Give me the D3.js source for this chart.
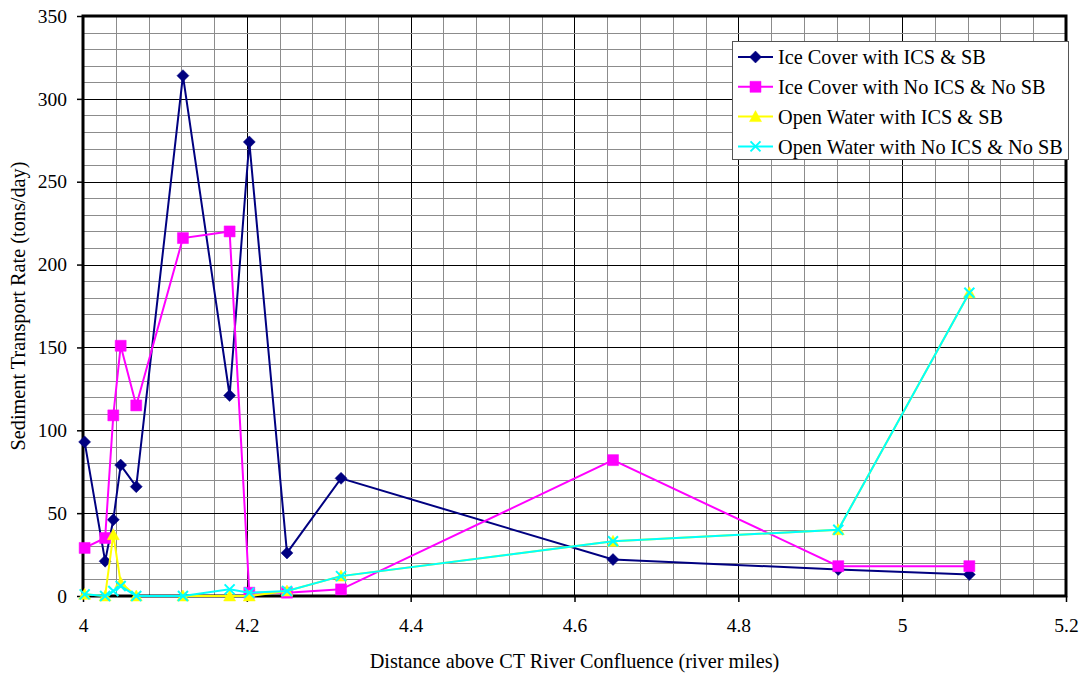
<!DOCTYPE html>
<html lang="en">
<head>
<meta charset="utf-8">
<script src="https://d3js.org/d3.v7.min.js"></script>
<style>
body { margin: 0; background: #fff; }
svg { font-family: "Liberation Serif", "Times New Roman", serif; }
.grid-minor { stroke: #8c8c8c; stroke-width: 1; shape-rendering: crispEdges; }
.grid-major { stroke: #000; stroke-width: 1; shape-rendering: crispEdges; }
.legend text { font-size: 20.3px; fill: #000; }
.title { font-size: 20.3px; fill: #000; }
</style>
</head>
<body>
<div id="chart"></div>
<script>
// distance above CT river confluence (river miles)
var distance = [4.002, 4.027, 4.037, 4.046, 4.065, 4.122, 4.179, 4.203, 4.249, 4.315, 4.647, 4.922, 5.082];

// sediment transport rate (tons/day)
var iceIcsSb   = [93, 21, 46, 79, 66, 314, 121, 274, 26, 71, 22, 16, 13];
var iceNoIcsSb = [29, 35, 109, 151, 115, 216, 220, 2, 2, 4, 82, 18, 18];
var openIcsSb   = [1, 0, 37, 8, 0, 0, 0, 0, 3, 12, 33, 40, 183];
var openNoIcsSb = [1, 0, 3, 6, 0, 0, 4, 2, 3, 12, 33, 40, 183];

var seriesNames = ["Ice Cover with ICS & SB", "Ice Cover with No ICS & No SB",
                   "Open Water with ICS & SB", "Open Water with No ICS & No SB"];
var seriesValues = [iceIcsSb, iceNoIcsSb, openIcsSb, openNoIcsSb];
var seriesColors = ["#000080", "#ff00ff", "#ffff00", "#00ffff"];
var seriesMarkers = ["diamond", "square", "triangle", "cross"];

var xTicks = [4, 4.2, 4.4, 4.6, 4.8, 5, 5.2];
var yTicks = [0, 50, 100, 150, 200, 250, 300, 350];

var width = 1083, height = 674,
    margin = {top: 16, right: 17, bottom: 78, left: 83};

var x = d3.scaleLinear().domain([4, 5.2]).range([margin.left, width - margin.right]);
var y = d3.scaleLinear().domain([0, 350]).range([height - margin.bottom, margin.top]);

var svg = d3.select("#chart").append("svg")
    .attr("width", width)
    .attr("height", height);

// gridlines: minor every 0.04 / 10, major every 0.2 / 50
var xMinor = d3.range(0, 31).map(function (i) { return 4 + i * 0.04; });
var yMinor = d3.range(0, 36).map(function (i) { return i * 10; });

var grid = svg.append("g");
grid.selectAll(".vx").data(xMinor).enter().append("line")
    .attr("class", function (d, i) { return i % 5 === 0 ? "grid-major" : "grid-minor"; })
    .attr("x1", function (d) { return Math.round(x(d)) + 0.5; })
    .attr("x2", function (d) { return Math.round(x(d)) + 0.5; })
    .attr("y1", y(350)).attr("y2", y(0));
grid.selectAll(".hy").data(yMinor).enter().append("line")
    .attr("class", function (d, i) { return i % 5 === 0 ? "grid-major" : "grid-minor"; })
    .attr("y1", function (d) { return Math.round(y(d)) + 0.5; })
    .attr("y2", function (d) { return Math.round(y(d)) + 0.5; })
    .attr("x1", x(4)).attr("x2", x(5.2));

// axes
var xAxis = d3.axisBottom(x).tickValues(xTicks).tickSize(6).tickPadding(16)
    .tickFormat(d3.format("~g"));
var yAxis = d3.axisLeft(y).tickValues(yTicks).tickSize(6).tickPadding(10);

function styleAxis(g) {
    g.select(".domain").remove();
    g.selectAll(".tick line").attr("stroke", "#000").attr("stroke-width", 1.5);
    g.selectAll(".tick text")
        .attr("fill", "#000")
        .style("font-family", "'Liberation Serif', 'Times New Roman', serif")
        .style("font-size", "19.5px");
}

svg.append("g")
    .attr("transform", "translate(0," + y(0) + ")")
    .call(xAxis)
    .call(styleAxis);

svg.append("g")
    .attr("transform", "translate(" + x(4) + ",0)")
    .call(yAxis)
    .call(styleAxis);

// plot frame
svg.append("rect")
    .attr("x", x(4)).attr("y", y(350))
    .attr("width", x(5.2) - x(4)).attr("height", y(0) - y(350))
    .attr("fill", "none").attr("stroke", "#000").attr("stroke-width", 3);

// axis titles
svg.append("text")
    .attr("class", "title")
    .attr("x", (x(4) + x(5.2)) / 2).attr("y", 668)
    .attr("text-anchor", "middle")
    .text("Distance above CT River Confluence (river miles)");

svg.append("text")
    .attr("class", "title")
    .attr("transform", "translate(25," + (y(0) + y(350)) / 2 + ") rotate(-90)")
    .attr("text-anchor", "middle")
    .text("Sediment Transport Rate (tons/day)");

function markerPath(type) {
    if (type === "diamond") return "M0,-6L6,0L0,6L-6,0Z";
    if (type === "square") return "M-5.5,-5.5H5.5V5.5H-5.5Z";
    if (type === "triangle") return "M0,-6L6,5H-6Z";
    return "M-5,-5L5,5M5,-5L-5,5";
}

function drawMarker(sel, type, color) {
    sel.append("path")
        .attr("d", markerPath(type))
        .attr("fill", type === "cross" ? "none" : color)
        .attr("stroke", color)
        .attr("stroke-width", type === "cross" ? 2 : 0.5);
}

var line = d3.line()
    .x(function (d) { return x(d[0]); })
    .y(function (d) { return y(d[1]); });

seriesValues.forEach(function (vals, si) {
    var pts = distance.map(function (d, i) { return [d, vals[i]]; });
    var g = svg.append("g");
    g.append("path")
        .datum(pts)
        .attr("d", line)
        .attr("fill", "none")
        .attr("stroke", seriesColors[si])
        .attr("stroke-width", 2);
    g.selectAll(".m").data(pts).enter().append("g")
        .attr("transform", function (d) { return "translate(" + x(d[0]) + "," + y(d[1]) + ")"; })
        .each(function () { drawMarker(d3.select(this), seriesMarkers[si], seriesColors[si]); });
});

// legend
var legend = svg.append("g").attr("class", "legend");
legend.append("rect")
    .attr("x", 732.5).attr("y", 41.5)
    .attr("width", 336).attr("height", 118)
    .attr("fill", "#fff").attr("stroke", "#555").attr("stroke-width", 1);

seriesNames.forEach(function (name, i) {
    var row = legend.append("g").attr("transform", "translate(0," + (57 + i * 29.8) + ")");
    row.append("line")
        .attr("x1", 738).attr("x2", 773)
        .attr("stroke", seriesColors[i]).attr("stroke-width", 2);
    var m = row.append("g").attr("transform", "translate(755.5,0)");
    drawMarker(m, seriesMarkers[i], seriesColors[i]);
    row.append("text")
        .attr("x", 778).attr("y", 0).attr("dy", "0.35em")
        .text(name);
});
</script>
</body>
</html>
